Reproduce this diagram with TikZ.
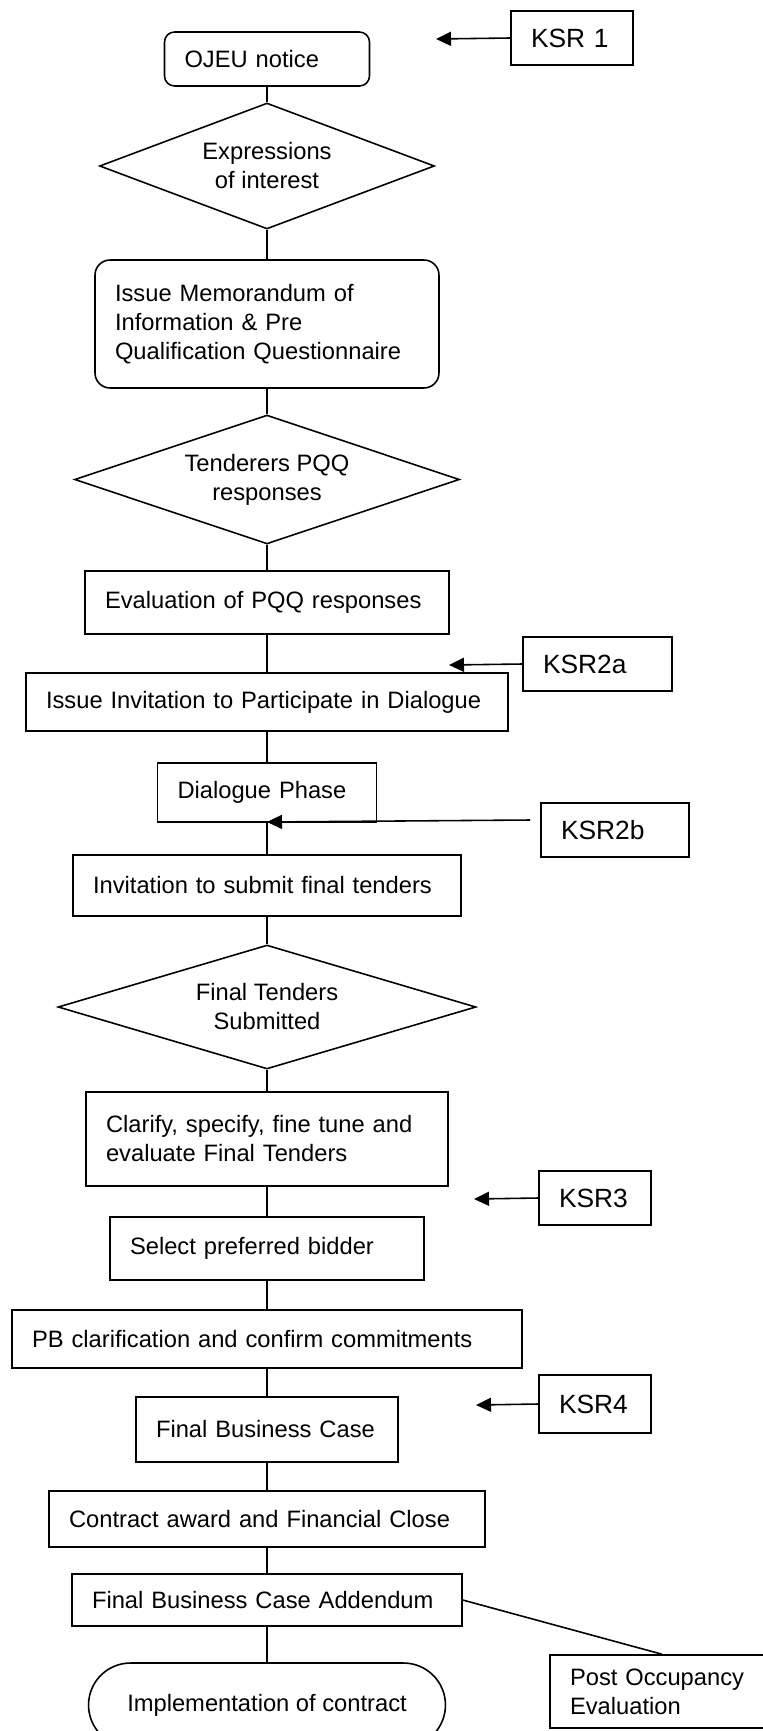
\documentclass[tikz,border=0pt]{standalone}
\usepackage{fontspec}
\setmainfont{Liberation Sans}
\usetikzlibrary{shapes.geometric,arrows.meta}

\tikzset{
    stepbox/.style  = {draw, line width=0.9pt, rectangle, align=left, inner xsep=0.4cm, inner ysep=0pt, text width=#1},
    roundbox/.style = {stepbox=#1, rounded corners=0.2cm},
    decision/.style = {draw, line width=0.9pt, diamond, align=center, inner sep=0pt, aspect=#1},
    ksrbox/.style   = {stepbox=#1, font=\fontsize{15}{18}\selectfont},
    ksrarrow/.style = {line width=0.9pt, -{Triangle[length=0.3cm,width=0.28cm]}},
    link/.style     = {line width=0.9pt}
}

\begin{document}
\begin{tikzpicture}[x=0.02cm, y=-0.02cm, every node/.style={font=\fontsize{13.5}{16.5}\selectfont}]
            \path[use as bounding box] (0,0) rectangle (763,1731);
            \clip                      (0,0) rectangle (763,1731);
            % main column
            \node[roundbox=3.30cm, minimum height=1.08cm]                          (ojeu)      at (267,  59.0) {OJEU notice};
            \node[decision=2.66, minimum width=6.70cm, minimum height=2.52cm]      (expr)      at (267, 166.0) {Expressions\\of interest};
            \node[roundbox=6.08cm, rounded corners=0.3cm, minimum height=2.56cm]   (memo)      at (267, 324.0) {Issue Memorandum of\\Information \& Pre\\Qualification Questionnaire};
            \node[decision=2.98, minimum width=7.70cm, minimum height=2.58cm]      (pqq)       at (267, 479.5) {Tenderers PQQ\\responses};
            \node[stepbox=6.48cm, minimum height=1.26cm]                           (evalpqq)   at (267, 602.5) {Evaluation of PQQ responses};
            \node[stepbox=8.84cm, minimum height=1.16cm]                           (issueinv)  at (267, 702.0) {Issue Invitation to Participate in Dialogue};
            \node[stepbox=3.58cm, minimum height=1.18cm]                           (dialogue)  at (267, 792.5) {Dialogue Phase};
            \node[stepbox=6.96cm, minimum height=1.22cm]                           (invfinal)  at (267, 885.5) {Invitation to submit final tenders};
            \node[decision=3.37, minimum width=8.36cm, minimum height=2.48cm]      (finaltend) at (267,1007.0) {Final Tenders\\Submitted};
            \node[stepbox=6.44cm, minimum height=1.88cm]                           (clarify)   at (267,1139.0) {Clarify, specify, fine tune and\\evaluate Final Tenders};
            \node[stepbox=5.48cm, minimum height=1.26cm]                           (select)    at (267,1248.5) {Select preferred bidder};
            \node[stepbox=9.40cm, minimum height=1.16cm]                           (pbclar)    at (267,1339.0) {PB clarification and confirm commitments};
            \node[stepbox=4.44cm, minimum height=1.30cm]                           (fbc)       at (267,1429.5) {Final Business Case};
            \node[stepbox=7.92cm, minimum height=1.12cm]                           (contract)  at (267,1519.0) {Contract award and Financial Close};
            \node[stepbox=7.00cm, minimum height=1.04cm]                           (addendum)  at (267,1600.0) {Final Business Case Addendum};
            \node[draw, line width=0.9pt, rounded corners=0.84cm, minimum width=7.14cm, minimum height=1.68cm] (implement) at (267,1705.0) {Implementation of contract};
            % key stage reviews
            \node[ksrbox=1.64cm, minimum height=1.08cm]                            (ksrone)    at (572,  38.0) {KSR 1};
            \node[ksrbox=2.18cm, minimum height=1.08cm]                            (ksrtwoa)   at (597.5,664.0) {KSR2a};
            \node[ksrbox=2.16cm, minimum height=1.08cm]                            (ksrtwob)   at (615, 830.0) {KSR2b};
            \node[ksrbox=1.44cm, minimum height=1.08cm]                            (ksrthree)  at (595,1198.0) {KSR3};
            \node[ksrbox=1.44cm, minimum height=1.16cm]                            (ksrfour)   at (595,1404.0) {KSR4};
            \node[stepbox=4.00cm, minimum height=1.46cm]                           (poe)       at (670,1691.5) {Post Occupancy\\Evaluation};
            \coordinate (tipone)   at (436,  39);
            \coordinate (tiptwoa)  at (449, 665);
            \coordinate (tiptwob)  at (267, 822);
            \coordinate (tipthree) at (474,1199);
            \coordinate (tipfour)  at (476,1405);
            % connectors
            \draw[link] (ojeu) -- (expr) -- (memo) -- (pqq) -- (evalpqq) -- (issueinv) -- (dialogue) -- (invfinal) -- (finaltend) -- (clarify) -- (select) -- (pbclar) -- (fbc) -- (contract) -- (addendum) -- (implement);
            \draw[link] (addendum.east) -- ([xshift=-0.16cm]poe.north);
            \draw[ksrarrow] (ksrone.west)   -- (tipone);
            \draw[ksrarrow] (ksrtwoa.west)  -- (tiptwoa);
            \draw[ksrarrow] ([xshift=-0.2cm,yshift=0.2cm]ksrtwob.west) -- (tiptwob);
            \draw[ksrarrow] (ksrthree.west) -- (tipthree);
            \draw[ksrarrow] (ksrfour.west)  -- (tipfour);
\end{tikzpicture}
\end{document}
